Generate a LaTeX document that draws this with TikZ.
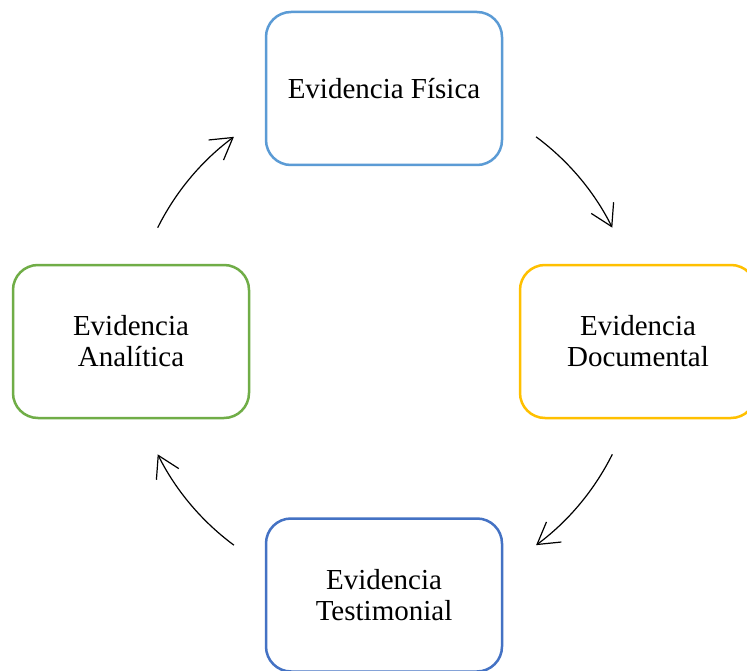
\documentclass[tikz,border=0pt]{standalone}
\usepackage{fontspec}
\setmainfont{Liberation Serif}
\usetikzlibrary{arrows.meta,calc}
\definecolor{cblue}{HTML}{5B9BD5}
\definecolor{cgold}{HTML}{FFC000}
\definecolor{cdblue}{HTML}{4472C4}
\definecolor{cgreen}{HTML}{70AD47}
\begin{document}
\begin{tikzpicture}[x=1pt,y=-1pt,
  box/.style={draw, line width=2.5pt, rounded corners=25pt, fill=white,
    minimum width=236pt, minimum height=153pt, inner sep=0pt, align=center,
    font=\fontsize{29}{31}\selectfont},
  flow/.style={line width=1.2pt, -{Straight Barb[length=21pt,width=25pt]}}]
\useasboundingbox (0,0) rectangle (747,671);
\clip (0,0) rectangle (747,671);
\fill[white] (0,0) rectangle (747,671);

\node[box, draw=cblue]  (fis) at (384,88.5)  {Evidencia Física};
\node[box, draw=cgold]  (doc) at (638,341.5) {Evidencia\\Documental};
\node[box, draw=cdblue] (tes) at (384,595)   {Evidencia\\Testimonial};
\node[box, draw=cgreen] (ana) at (131,341.5) {Evidencia\\Analítica};

% arc connectors on a circle around the centre of the cycle
% (y axis points down, so angles run clockwise)
\coordinate (c) at (385,341);
\coordinate (s1) at ($(c)+(-53.5:254)$);
\coordinate (s2) at ($(c)+(26.5:254)$);
\coordinate (s3) at ($(c)+(126.5:254)$);
\coordinate (s4) at ($(c)+(-153.5:254)$);
\draw[flow] (s1) arc[start angle=-53.5, end angle=-26.5, radius=254];
\draw[flow] (s2) arc[start angle=26.5, end angle=53.5, radius=254];
\draw[flow] (s3) arc[start angle=126.5, end angle=153.5, radius=254];
\draw[flow] (s4) arc[start angle=-153.5, end angle=-126.5, radius=254];
\end{tikzpicture}
\end{document}
